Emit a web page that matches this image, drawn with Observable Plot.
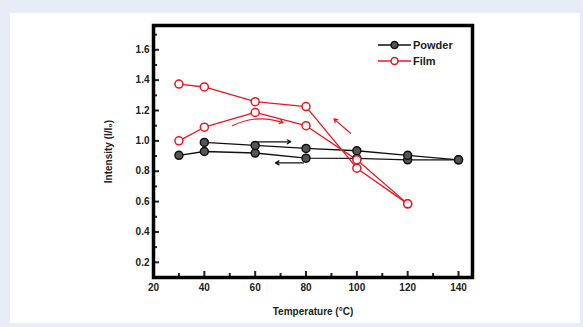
<!DOCTYPE html>
<html>
<head>
<meta charset="utf-8">
<script src="https://cdn.jsdelivr.net/npm/d3@7"></script>
<script src="https://cdn.jsdelivr.net/npm/@observablehq/plot@0.6"></script>
<style>
  html, body { margin: 0; padding: 0; }
  body { background: #e6edf7; width: 583px; height: 327px; overflow: hidden; position: relative; }
  #chart { position: absolute; left: 10px; top: 13px; }
  #chart svg { background: #fff; display: block; }
  .legend { position: absolute; left: 378px; top: 37px; font: bold 11px "Liberation Sans Narrow", "Liberation Sans", Arial, sans-serif; color: #222; }
  .legend div { display: flex; align-items: center; height: 16px; }
  .legend svg { margin-right: 2px; }
</style>
</head>
<body>
<div id="chart"></div>
<div class="legend" id="legend"></div>
<script>
// ---- data ----
const powderHeatT = [30, 40, 60, 80, 100, 120, 140];
const powderHeatI = [0.905, 0.93, 0.92, 0.886, 0.885, 0.875, 0.875];
const powderCoolT = [140, 120, 100, 80, 60, 40];
const powderCoolI = [0.875, 0.905, 0.935, 0.95, 0.97, 0.99];
const filmHeatT = [30, 40, 60, 80, 100, 120];
const filmHeatI = [1.00, 1.09, 1.187, 1.10, 0.875, 0.585];
const filmCoolT = [120, 100, 80, 60, 40, 30];
const filmCoolI = [0.585, 0.82, 1.226, 1.258, 1.355, 1.374];
const seriesNames = ["Powder", "Film"];
const xTicks = [20, 40, 60, 80, 100, 120, 140];
const xMinor = [30, 50, 70, 90, 110, 130];
const yTicks = [0.2, 0.4, 0.6, 0.8, 1.0, 1.2, 1.4, 1.6];
const yMinor = [0.1, 0.3, 0.5, 0.7, 0.9, 1.1, 1.3, 1.5, 1.7];
// annotation arrows (data coordinates)
const blackArrows = [
  {x1: 61, y1: 0.994, x2: 74, y2: 0.994},
  {x1: 79, y1: 0.855, x2: 68, y2: 0.855}
];
const redArrows = [
  {x1: 51, y1: 1.10, x2: 71, y2: 1.12, bend: true},
  {x1: 97.5, y1: 1.05, x2: 91, y2: 1.145, bend: false}
];

const RED = "#f0141e";
const toRows = (T, I) => T.map((t, i) => ({t, v: I[i]}));
const pH = toRows(powderHeatT, powderHeatI);
const pC = toRows(powderCoolT, powderCoolI);
const fH = toRows(filmHeatT, filmHeatI);
const fC = toRows(filmCoolT, filmCoolI);

const font = `"Liberation Sans Narrow", "Liberation Sans", Arial, sans-serif`;

const chart = Plot.plot({
  width: 570,
  height: 310,
  marginLeft: 143,
  marginRight: 108,
  marginTop: 12,
  marginBottom: 46,
  style: {fontFamily: font, fontSize: "11px", fontWeight: "bold", color: "#222", background: "#fff"},
  x: {domain: [20, 145.5]},
  y: {domain: [0.1, 1.76]},
  marks: [
    // inward ticks
    Plot.axisX(xTicks, {tickSize: 6, dy: -6, strokeWidth: 2, text: null, label: null}),
    Plot.axisX(xMinor, {tickSize: 4, dy: -4, strokeWidth: 2, text: null, label: null}),
    Plot.axisY(yTicks, {tickSize: 6, dx: 6, strokeWidth: 2, text: null, label: null}),
    Plot.axisY(yMinor, {tickSize: 4, dx: 4, strokeWidth: 2, text: null, label: null}),
    // tick labels and titles
    Plot.axisX(xTicks, {tickSize: 0, tickPadding: 6, label: "Temperature (°C)", labelAnchor: "center", labelOffset: 37, labelArrow: "none", tickFormat: d => d, fontSize: 10}),
    Plot.axisY(yTicks, {tickSize: 0, tickPadding: 4, label: "Intensity (I/I₀)", labelAnchor: "center", labelOffset: 49, labelArrow: "none", tickFormat: d3.format(".1f"), fontSize: 10}),
    Plot.line(pH, {x: "t", y: "v", stroke: "#111", strokeWidth: 1.3}),
    Plot.line(pC, {x: "t", y: "v", stroke: "#111", strokeWidth: 1.3}),
    Plot.line(fH, {x: "t", y: "v", stroke: RED, strokeWidth: 1.3}),
    Plot.line(fC, {x: "t", y: "v", stroke: RED, strokeWidth: 1.3}),
    Plot.arrow(blackArrows, {x1: "x1", y1: "y1", x2: "x2", y2: "y2", stroke: "#111", strokeWidth: 1.2, headLength: 5}),
    Plot.arrow(redArrows.filter(d => d.bend), {x1: "x1", y1: "y1", x2: "x2", y2: "y2", stroke: RED, strokeWidth: 1.2, headLength: 5, bend: true}),
    Plot.arrow(redArrows.filter(d => !d.bend), {x1: "x1", y1: "y1", x2: "x2", y2: "y2", stroke: RED, strokeWidth: 1.2, headLength: 5}),
    Plot.dot([...pH, ...pC], {x: "t", y: "v", r: 4, fill: "#555", stroke: "#111", strokeWidth: 1.5}),
    Plot.dot([...fH, ...fC], {x: "t", y: "v", r: 4, fill: "#fff", stroke: RED, strokeWidth: 1.5}),
    Plot.frame({stroke: "#000", strokeWidth: 3.5})
  ]
});
document.getElementById("chart").appendChild(chart);

// legend
const legend = document.getElementById("legend");
const legendStyles = [
  {stroke: "#111", fill: "#555"},
  {stroke: RED, fill: "#fff"}
];
seriesNames.forEach((name, i) => {
  const s = legendStyles[i];
  const row = document.createElement("div");
  row.innerHTML = `<svg width="33" height="10"><line x1="0" y1="5" x2="33" y2="5" stroke="${s.stroke}" stroke-width="1.5"/><circle cx="16.5" cy="5" r="3.5" fill="${s.fill}" stroke="${s.stroke}" stroke-width="1.5"/></svg><span>${name}</span>`;
  legend.appendChild(row);
});
</script>
</body>
</html>
